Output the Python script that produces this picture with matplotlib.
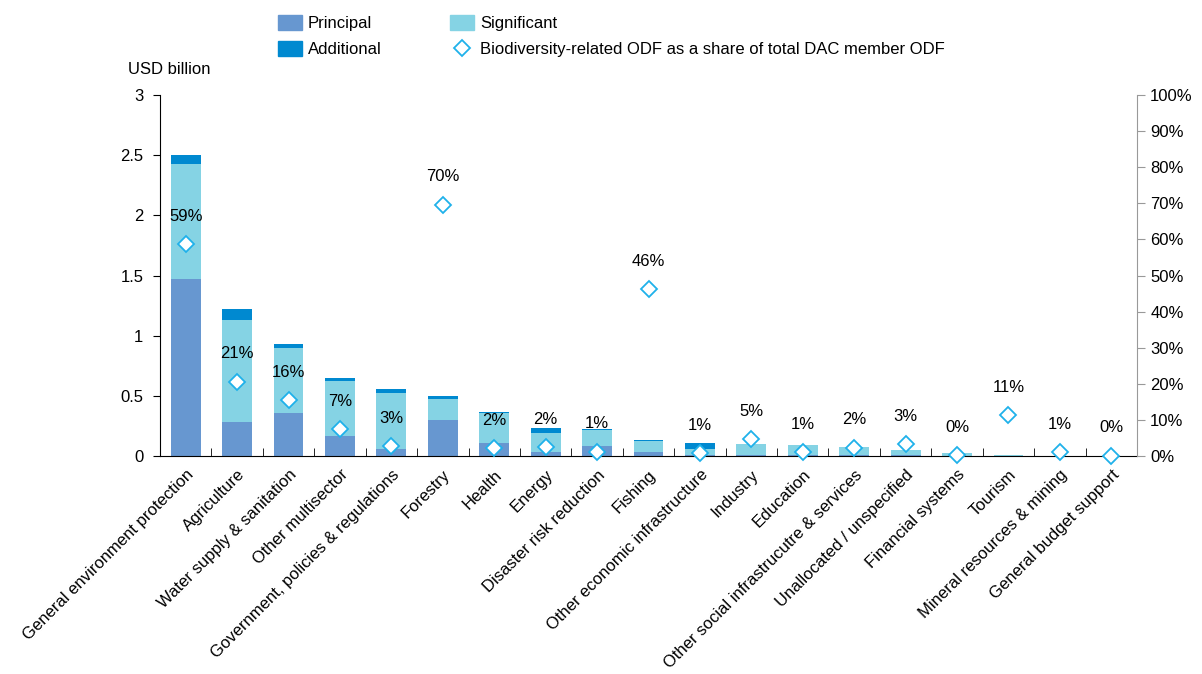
import matplotlib
matplotlib.use("Agg")
import matplotlib.pyplot as plt
from matplotlib.lines import Line2D
from matplotlib.patches import Patch
import numpy as np

plt.rcParams['font.family'] = ['Liberation Sans', 'DejaVu Sans']

categories = ["General environment protection", "Agriculture", "Water supply & sanitation",
              "Other multisector", "Government, policies & regulations", "Forestry", "Health",
              "Energy", "Disaster risk reduction", "Fishing", "Other economic infrastructure",
              "Industry", "Education", "Other social infrastrucutre & services",
              "Unallocated / unspecified", "Financial systems", "Tourism",
              "Mineral resources & mining", "General budget support"]
principal = [1.47, 0.28, 0.36, 0.17, 0.06, 0.30, 0.11, 0.03, 0.08, 0.035, 0.005, 0.005,
             0.01, 0.005, 0.005, 0.003, 0.002, 0.0, 0.0]
significant = [0.96, 0.85, 0.54, 0.45, 0.46, 0.17, 0.25, 0.165, 0.14, 0.09, 0.053, 0.095,
               0.078, 0.07, 0.045, 0.025, 0.003, 0.001, 0.0]
additional = [0.07, 0.09, 0.03, 0.03, 0.04, 0.03, 0.005, 0.04, 0.005, 0.005, 0.052, 0.0,
              0.0, 0.0, 0.0, 0.0, 0.0, 0.0, 0.0]
share = [58.7, 20.6, 15.5, 7.4, 2.8, 69.6, 2.2, 2.4, 1.2, 46.2, 0.8, 4.6, 1.0, 2.3, 3.3,
         0.3, 11.4, 1.1, 0.1]

c_prin = "#6797d0"
c_sig = "#85d3e4"
c_add = "#0089d0"
c_dia = "#1fb1ea"
FS = 12

fig = plt.figure(figsize=(12.02, 6.74), dpi=100)
ax = fig.add_axes([160/1202, 1-456/674, (1137-160)/1202, (456-95)/674])
x = np.arange(len(categories))
w = 0.58
p = np.array(principal); s = np.array(significant); a = np.array(additional)
ax.bar(x, p, w, color=c_prin, edgecolor="none")
ax.bar(x, s, w, bottom=p, color=c_sig, edgecolor="none")
ax.bar(x, a, w, bottom=p + s, color=c_add, edgecolor="none")

ax.set_xlim(-0.5, len(categories) - 0.5)
ax.set_ylim(0, 3)
ax.set_yticks([0, 0.5, 1, 1.5, 2, 2.5, 3])
ax.set_yticklabels(["0", "0.5", "1", "1.5", "2", "2.5", "3"])
ax.spines['top'].set_visible(False)
ax.spines['right'].set_visible(False)
ax.tick_params(axis='y', direction='out', length=5, labelsize=FS, pad=7)
ax.set_xticks(x)
ax.set_xticklabels(categories, rotation=45, ha='right', rotation_mode='anchor', fontsize=FS)
ax.tick_params(axis='x', length=0, pad=8)
ax.set_xticks(np.arange(len(categories) - 1) + 0.5, minor=True)
ax.tick_params(axis='x', which='minor', direction='in', length=6)
ax.text(-0.033, 1.07, "USD billion", transform=ax.transAxes, fontsize=FS, ha='left', va='center')

ax2 = ax.twinx()
ax2.set_ylim(0, 100)
ax2.set_yticks(range(0, 101, 10))
ax2.set_yticklabels([f"{v}%" for v in range(0, 101, 10)])
ax2.tick_params(axis='y', direction='out', length=6, labelsize=FS, colors='#999999', labelcolor='black')
ax2.spines['right'].set_color('#999999')
for sp in ['top', 'left', 'bottom']:
    ax2.spines[sp].set_visible(False)
ax2.plot(x, share, linestyle='none', marker='D', markersize=8, markerfacecolor='white',
         markeredgecolor=c_dia, markeredgewidth=1.3, clip_on=False, zorder=5)
for xi, v in zip(x, share):
    ax2.annotate(f"{round(v)}%", (xi, v), xytext=(0, 20), textcoords='offset points',
                 ha='center', va='center', fontsize=FS, zorder=6)

handles = [Patch(color=c_prin, label="Principal"),
           Patch(color=c_add, label="Additional"),
           Patch(color=c_sig, label="Significant"),
           Line2D([], [], linestyle='none', marker='D', markersize=8.5, markerfacecolor='white',
                  markeredgecolor=c_dia, markeredgewidth=1.3,
                  label="Biodiversity-related ODF as a share of total DAC member ODF")]
fig.legend(handles=handles, ncol=2, loc='upper left', bbox_to_anchor=(263/1202, 1 - 0/674),
           frameon=False, fontsize=FS, handlelength=1.45, handleheight=1.0,
           columnspacing=4.1, labelspacing=0.6, handletextpad=0.35)

fig.savefig("out.png", dpi=100)
